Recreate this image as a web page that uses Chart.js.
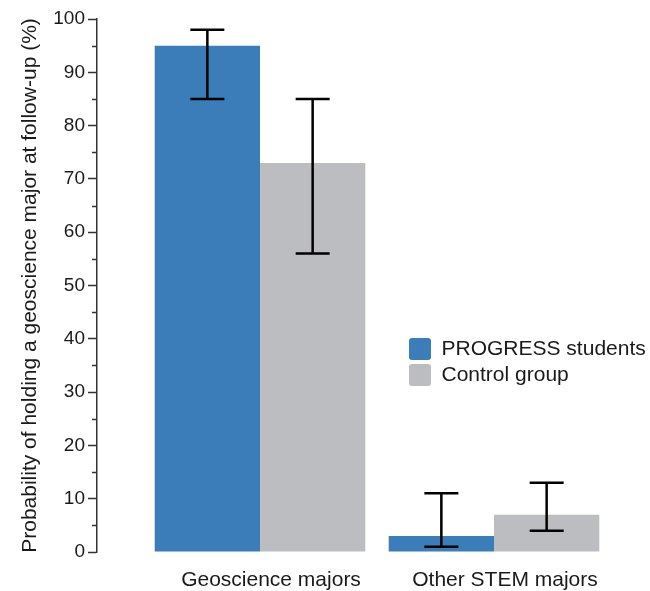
<!DOCTYPE html>
<html lang="en">
<head>
    <meta charset="UTF-8">
    <title>Probability of holding a geoscience major</title>
    <script src="https://cdn.jsdelivr.net/npm/chart.js"></script>
    <style>
        body {
            margin: 0;
            background: #ffffff;
        }
        .chart-container {
            width: 650px;
            height: 591px;
        }
    </style>
</head>
<body>
    <div class="chart-container">
        <canvas id="myChart" width="650" height="591"></canvas>
    </div>

    <script>
        // data
        const categories = ['Geoscience majors', 'Other STEM majors'];
        const seriesNames = ['PROGRESS students', 'Control group'];
        const progress = [95, 3];
        const progressLow = [85, 1];
        const progressHigh = [98, 11];
        const control = [73, 7];
        const controlLow = [56, 4];
        const controlHigh = [85, 13];
        const yTicks = [0, 10, 20, 30, 40, 50, 60, 70, 80, 90, 100];
        const yMinorTicks = [5, 15, 25, 35, 45, 55, 65, 75, 85, 95];

        const FONT = 'Liberation Sans, Arial, Helvetica, sans-serif';
        const TEXT = '#1a1a1a';
        const AXIS = '#333333';

        function points(values) {
            return values.map((v, i) => ({ x: i, y: v }));
        }

        // error bars with caps
        const errorBars = {
            id: 'errorBars',
            afterDatasetsDraw(chart) {
                const ctx = chart.ctx;
                const y = chart.scales.y;
                chart.data.datasets.forEach((ds, di) => {
                    const meta = chart.getDatasetMeta(di);
                    meta.data.forEach((bar, i) => {
                        const top = y.getPixelForValue(ds.errHigh[i]);
                        const bottom = y.getPixelForValue(ds.errLow[i]);
                        ctx.save();
                        ctx.strokeStyle = '#000';
                        ctx.lineWidth = 2.5;
                        ctx.beginPath();
                        ctx.moveTo(bar.x, top);
                        ctx.lineTo(bar.x, bottom);
                        ctx.moveTo(bar.x - 17, top);
                        ctx.lineTo(bar.x + 17, top);
                        ctx.moveTo(bar.x - 17, bottom);
                        ctx.lineTo(bar.x + 17, bottom);
                        ctx.stroke();
                        ctx.restore();
                    });
                });
            }
        };

        // short ticks between the labelled ones
        const minorTicks = {
            id: 'minorTicks',
            afterDraw(chart) {
                const ctx = chart.ctx;
                const y = chart.scales.y;
                const x0 = chart.chartArea.left;
                ctx.save();
                ctx.strokeStyle = AXIS;
                ctx.lineWidth = 1.5;
                ctx.beginPath();
                yMinorTicks.forEach(v => {
                    const py = Math.round(y.getPixelForValue(v)) + 0.5;
                    ctx.moveTo(x0 - 5, py);
                    ctx.lineTo(x0, py);
                });
                ctx.stroke();
                ctx.restore();
            }
        };

        // move the legend into the empty space on the right
        const placeLegend = {
            id: 'placeLegend',
            afterLayout(chart) {
                const lg = chart.legend;
                lg.left = 405;
                lg.top = 334;
                lg.right = 650;
                lg.bottom = 420;
                lg.width = 245;
                lg.height = 86;
            }
        };

        const ctx = document.getElementById('myChart').getContext('2d');

        new Chart(ctx, {
            type: 'bar',
            data: {
                datasets: [{
                    label: seriesNames[0],
                    data: points(progress),
                    errLow: progressLow,
                    errHigh: progressHigh,
                    backgroundColor: '#3a7db8',
                    borderWidth: 0
                }, {
                    label: seriesNames[1],
                    data: points(control),
                    errLow: controlLow,
                    errHigh: controlHigh,
                    backgroundColor: '#bcbdc0',
                    borderWidth: 0
                }]
            },
            options: {
                responsive: false,
                animation: false,
                categoryPercentage: 0.9,
                barPercentage: 1.0,
                layout: {
                    padding: { top: 19, right: 39, left: 0, bottom: 0 }
                },
                plugins: {
                    tooltip: { enabled: false },
                    legend: {
                        position: 'chartArea',
                        align: 'start',
                        labels: {
                            boxWidth: 22,
                            boxHeight: 22,
                            useBorderRadius: true,
                            borderRadius: 3,
                            padding: 4,
                            color: TEXT,
                            font: { family: FONT, size: 21 }
                        }
                    }
                },
                scales: {
                    x: {
                        type: 'linear',
                        offset: false,
                        min: -0.6966,
                        max: 1.5,
                        afterBuildTicks(scale) {
                            scale.ticks = categories.map((c, i) => ({ value: i }));
                        },
                        afterFit(scale) {
                            scale.height = 39;
                        },
                        grid: { display: false, drawTicks: false },
                        border: { display: false },
                        ticks: {
                            autoSkip: false,
                            maxRotation: 0,
                            padding: 16,
                            labelOffset: 11,
                            color: TEXT,
                            font: { family: FONT, size: 21 },
                            callback: (value) => categories[value]
                        }
                    },
                    y: {
                        min: 0,
                        max: 100,
                        afterBuildTicks(scale) {
                            scale.ticks = yTicks.map(v => ({ value: v }));
                        },
                        afterFit(scale) {
                            scale.width = 97;
                        },
                        grid: {
                            drawOnChartArea: false,
                            tickLength: 9,
                            tickWidth: 1.5,
                            tickColor: AXIS
                        },
                        border: { color: AXIS, width: 1.5 },
                        ticks: {
                            padding: 3,
                            color: TEXT,
                            font: { family: FONT, size: 19 }
                        },
                        title: {
                            display: true,
                            text: 'Probability of holding a geoscience major at follow-up (%)',
                            color: TEXT,
                            font: { family: FONT, size: 21 },
                            padding: { top: 18, bottom: 0 }
                        }
                    }
                }
            },
            plugins: [errorBars, minorTicks, placeLegend]
        });
    </script>
</body>
</html>
